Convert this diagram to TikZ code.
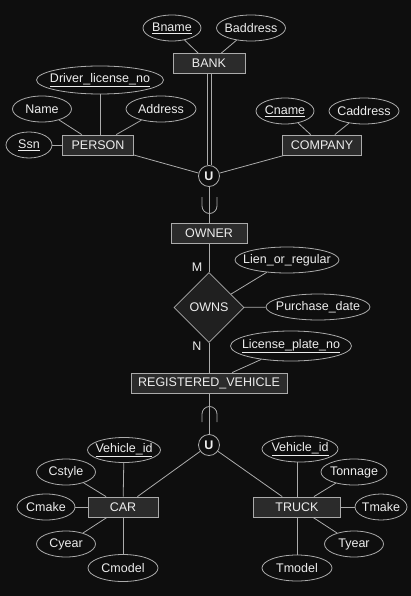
\documentclass[tikz,border=0pt]{standalone}
\usepackage{fontspec}
\setmainfont{Liberation Sans}
\usetikzlibrary{shapes.geometric}
\definecolor{erbg}{HTML}{0E0E0E}
\definecolor{erline}{HTML}{ABABAB}
\definecolor{erbox}{HTML}{2B2B2B}
\definecolor{errel}{HTML}{202020}
\definecolor{ertext}{HTML}{EDEDED}
\newcommand{\erfont}{\fontsize{12.5}{15}\selectfont}
\newcommand{\attrtext}[1]{\makebox[0pt]{#1}}
\tikzset{
  entitybox/.style={rectangle, draw=erline, fill=erbox, line width=0.8pt, minimum height=20pt, inner sep=0pt, text=ertext},
  attr/.style={ellipse, draw=erline, fill=erbg, line width=0.8pt, minimum height=26pt, inner sep=0pt, text=ertext},
  relship/.style={diamond, draw=erline, fill=errel, line width=0.8pt, minimum width=70pt, minimum height=70pt, inner sep=0pt, text=ertext},
  unioncirc/.style={circle, draw=erline, fill=erbg, line width=0.8pt, minimum size=21pt, inner sep=0pt, text=ertext, font=\erfont\bfseries},
  card/.style={text=ertext},
  conn/.style={draw=erline, line width=0.8pt},
}

\begin{document}
\begin{tikzpicture}[x=1pt, y=-1pt, font=\erfont]
  \fill[erbg] (0,0) rectangle (411,596);
  \useasboundingbox (0,0) rectangle (411,596);

  % owner side
  \node[entitybox, minimum width=72pt] (bank) at (209,63.5) {BANK};
  \node[attr, minimum width=58pt] (bname) at (172,28) {\attrtext{\underline{Bname}}};
  \node[attr, minimum width=69pt] (baddress) at (251,28) {\attrtext{Baddress}};
  \node[entitybox, minimum width=71pt] (person) at (98,145) {PERSON};
  \node[attr, minimum width=127pt, minimum height=28pt] (driver) at (100,80) {\attrtext{\underline{Driver\_license\_no}}};
  \node[attr, minimum width=59pt] (name) at (42,109) {\attrtext{Name}};
  \node[attr, minimum width=70pt] (address) at (161,109) {\attrtext{Address}};
  \node[attr, minimum width=46pt] (ssn) at (29,145) {\attrtext{\underline{Ssn}}};
  \node[entitybox, minimum width=79pt] (company) at (322,145) {COMPANY};
  \node[attr, minimum width=58pt] (cname) at (285,111) {\attrtext{\underline{Cname}}};
  \node[attr, minimum width=70pt] (caddress) at (364,111) {\attrtext{Caddress}};
  \node[unioncirc] (uowner) at (209,176) {U};
  \node[entitybox, minimum width=76pt] (owner) at (209,233) {OWNER};

  % relationship
  \node[relship] (owns) at (209,307.5) {OWNS};
  \node[attr, minimum width=104pt] (lien) at (287,260) {\attrtext{Lien\_or\_regular}};
  \node[attr, minimum width=104pt] (pdate) at (318,307) {\attrtext{Purchase\_date}};
  \node[card] (cm) at (197,267) {M};
  \node[card] (cn) at (197,346) {N};
  \node[entitybox, minimum width=156pt] (regveh) at (209,383) {REGISTERED\_VEHICLE};
  \node[attr, minimum width=121pt, minimum height=30pt] (plate) at (291,346) {\attrtext{\underline{License\_plate\_no}}};

  % vehicle side
  \node[unioncirc] (uvehicle) at (209,445) {U};
  \node[entitybox, minimum width=70pt] (car) at (123,507) {CAR};
  \node[attr, minimum width=73pt, minimum height=25pt] (cvid) at (124,450) {\attrtext{\underline{Vehicle\_id}}};
  \node[attr, minimum width=59pt] (cstyle) at (66,472) {\attrtext{Cstyle}};
  \node[attr, minimum width=58pt] (cmake) at (46,507) {\attrtext{Cmake}};
  \node[attr, minimum width=59pt] (cyear) at (66,544) {\attrtext{Cyear}};
  \node[attr, minimum width=70pt, minimum height=27pt] (cmodel) at (123,568) {\attrtext{Cmodel}};
  \node[entitybox, minimum width=87pt] (truck) at (297,507) {TRUCK};
  \node[attr, minimum width=76pt] (tvid) at (300,449) {\attrtext{\underline{Vehicle\_id}}};
  \node[attr, minimum width=66pt] (tonnage) at (354,472) {\attrtext{Tonnage}};
  \node[attr, minimum width=52pt] (tmake) at (381,507) {\attrtext{Tmake}};
  \node[attr, minimum width=59pt] (tyear) at (354,544) {\attrtext{Tyear}};
  \node[attr, minimum width=70pt] (tmodel) at (297,568) {\attrtext{Tmodel}};

  \draw[conn] (bname) -- (bank);
  \draw[conn] (baddress) -- (bank);
  \draw[conn] (driver) -- (driver |- person.north);
  \draw[conn] (name) -- (person);
  \draw[conn] (address) -- (person);
  \draw[conn] (ssn) -- (person);
  \draw[conn] (cname) -- (company);
  \draw[conn] (caddress) -- (company);
  % total participation, two lines
  \draw[conn] ([xshift=-2pt]bank.south) -- ([xshift=-2pt]uowner.north);
  \draw[conn] ([xshift=2pt]bank.south) -- ([xshift=2pt]uowner.north);
  \draw[conn] (person) -- (uowner);
  \draw[conn] (company) -- (uowner);
  \draw[conn] (uowner) -- (owner);
  \draw[conn] (202,197) -- (202,206) arc[start angle=180, end angle=360, radius=7.5pt] -- (217,197);
  \draw[conn] (owner) -- (owns);
  \draw[conn] (lien) -- (owns);
  \draw[conn] (pdate) -- (owns);
  \draw[conn] (owns) -- (regveh);
  \draw[conn] (plate) -- (regveh);
  \draw[conn] (regveh) -- (uvehicle);
  \draw[conn] (202,422) -- (202,414) arc[start angle=180, end angle=0, radius=7.5pt] -- (217,422);
  \draw[conn] (uvehicle) -- (car);
  \draw[conn] (uvehicle) -- (truck);
  \draw[conn] (cvid) -- (car);
  \draw[conn] (cstyle) -- (car);
  \draw[conn] (cmake) -- (car);
  \draw[conn] (cyear) -- (car);
  \draw[conn] (cmodel) -- (car);
  \draw[conn] (truck.north) -- (truck |- tvid.south);
  \draw[conn] (tonnage) -- (truck);
  \draw[conn] (tmake) -- (truck);
  \draw[conn] (tyear) -- (truck);
  \draw[conn] (tmodel) -- (truck);
\end{tikzpicture}
\end{document}
